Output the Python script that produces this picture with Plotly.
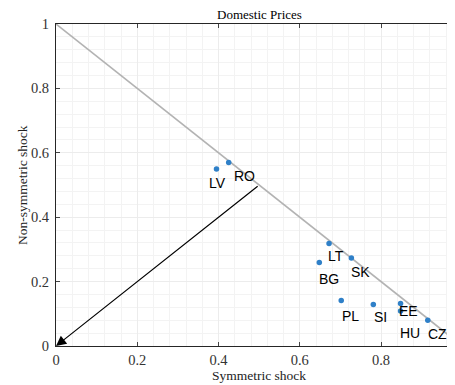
import plotly.graph_objects as go

countries = ["LV", "RO", "LT", "BG", "SK", "PL", "SI", "EE", "HU", "CZ"]
symmetric = [0.395, 0.425, 0.672, 0.648, 0.727, 0.702, 0.781, 0.848, 0.848, 0.915]
nonsymmetric = [0.550, 0.570, 0.318, 0.259, 0.273, 0.141, 0.129, 0.132, 0.109, 0.080]
tick_vals = [0, 0.2, 0.4, 0.6, 0.8, 1]
tick_text = ["0", "0.2", "0.4", "0.6", "0.8", "1"]

# label offsets in pixels (dx right, dy down) - layout only
label_offsets = {
    "LV": (1, 14), "RO": (16, 14), "LT": (7, 12), "BG": (10, 16), "SK": (9, 14),
    "PL": (9, 15), "SI": (7, 13), "EE": (8, 7), "HU": (9, 22), "CZ": (10, 14),
}

serif = "Liberation Serif"
sans = "Liberation Sans"

fig = go.Figure()
# 45-degree reference line
fig.add_trace(go.Scatter(x=[0, 1], y=[1, 0], mode="lines",
                         line=dict(color="#b3b3b3", width=1.6),
                         hoverinfo="skip", showlegend=False))
fig.add_trace(go.Scatter(x=symmetric, y=nonsymmetric, mode="markers",
                         marker=dict(color="#2f80c8", size=5.5),
                         showlegend=False, cliponaxis=False))

ann = []
for c, xv, yv in zip(countries, symmetric, nonsymmetric):
    dx, dy = label_offsets[c]
    ann.append(dict(x=xv, y=yv, xref="x", yref="y", text=c, showarrow=False,
                    xanchor="center", yanchor="middle", xshift=dx, yshift=-dy,
                    font=dict(family=sans, size=14, color="#000")))
# arrow
ann.append(dict(x=0, y=0, ax=0.5, ay=0.5, xref="x", yref="y", axref="x", ayref="y",
                text="", showarrow=True, arrowhead=2, arrowsize=1.7, arrowwidth=1.2,
                arrowcolor="#000", standoff=0))
# title and axis titles
ann.append(dict(x=0.5, y=1, xref="x", yref="paper", text="Domestic Prices", showarrow=False,
                xanchor="center", yanchor="bottom", yshift=1, borderpad=0,
                font=dict(family=serif, size=13, color="#000")))
ann.append(dict(x=0.5, y=0, xref="x", yref="paper", text="Symmetric shock", showarrow=False,
                xanchor="center", yanchor="middle", yshift=-29,
                font=dict(family=serif, size=13.5, color="#222")))
ann.append(dict(x=0, y=0.5, xref="paper", yref="paper", text="Non-symmetric shock", showarrow=False,
                xanchor="center", yanchor="middle", xshift=-34, textangle=-90,
                font=dict(family=serif, size=13.5, color="#222")))

axis_common = dict(
    tickvals=tick_vals, ticktext=tick_text, ticks="inside", ticklen=4,
    tickcolor="#444", tickfont=dict(family=serif, size=14.5, color="#333"),
    showgrid=True, gridcolor="#ececec", gridwidth=1,
    minor=dict(dtick=0.04, showgrid=True, gridcolor="#f3f3f3", gridwidth=1),
    showline=True, linecolor="#262626", linewidth=1.2, zeroline=False,
    automargin=False,
)

fig.update_layout(
    width=447, height=377,
    margin=dict(l=48, r=0, t=16, b=39),
    font=dict(family=serif, color="#333"),
    plot_bgcolor="white", paper_bgcolor="white",
    xaxis=dict(range=[0, 0.982], mirror="ticks", **axis_common),
    yaxis=dict(range=[0, 1], mirror=False, ticklabelstandoff=3, **axis_common),
    annotations=ann,
)
fig.write_html("out.html")
